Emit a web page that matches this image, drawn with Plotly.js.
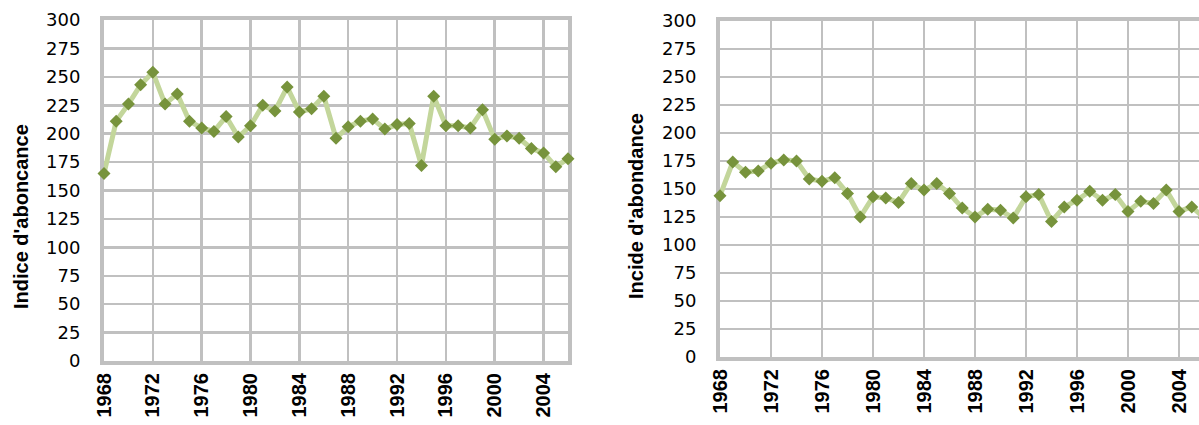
<!DOCTYPE html>
<html>
<head>
<meta charset="utf-8">
<script src="https://cdn.plot.ly/plotly-3.0.1.min.js"></script>
<style>
html,body{margin:0;padding:0;overflow:hidden;background:#fff;}
#chart{width:1215px;height:425px;}
</style>
</head>
<body>
<div id="chart"></div>
<script>
const years = [1968,1969,1970,1971,1972,1973,1974,1975,1976,1977,1978,1979,1980,1981,1982,1983,1984,1985,1986,1987,1988,1989,1990,1991,1992,1993,1994,1995,1996,1997,1998,1999,2000,2001,2002,2003,2004,2005,2006];
const leftValues = [165,211,226,243,254,226,235,211,205,202,215,197,207,225,220,241,219,222,233,196,206,211,213,204,208,209,172,233,207,207,205,221,195,198,196,187,183,171,178];
const rightValues = [144,174,165,166,173,176,175,159,157,160,146,125,143,142,138,155,149,155,146,133,125,132,131,124,143,145,121,134,140,148,140,145,130,139,137,149,130,134,124];
const tickYears = [1968,1972,1976,1980,1984,1988,1992,1996,2000,2004];
const yTicks = [0,25,50,75,100,125,150,175,200,225,250,275,300];
const leftTitle = "Indice d'aboncance";
const rightTitle = "Incide d'abondance";

const W = 1215, H = 425;
const px = v => v / W;
const py = v => (H - v) / H;

const lineColor = '#C3D69B';
const markerColor = '#77933C';
const gridColor = '#C0C0C0';

function trace(vals, xa, ya) {
  return {
    x: years, y: vals, xaxis: xa, yaxis: ya,
    type: 'scatter', mode: 'lines+markers',
    line: {color: lineColor, width: 5},
    marker: {symbol: 'diamond', size: 10, color: markerColor},
    cliponaxis: false, hoverinfo: 'skip', showlegend: false
  };
}

function xaxis(domain, anchor) {
  return {
    domain: domain, anchor: anchor, range: [1968, 2006],
    tickvals: tickYears, ticktext: tickYears.map(String),
    tickangle: -90, ticks: '', ticklen: 0,
    tickfont: {family: 'Liberation Sans, Arial, sans-serif', size: 20, color: '#000', weight: 'bold'},
    showgrid: true, gridcolor: gridColor, gridwidth: 2.5,
    showline: true, linecolor: gridColor, linewidth: 4, mirror: true,
    zeroline: false, layer: 'below traces', fixedrange: true
  };
}
function yaxis(domain, anchor) {
  return {
    domain: domain, anchor: anchor, range: [0, 300],
    tickvals: yTicks, ticktext: yTicks.map(String),
    ticks: 'outside', ticklen: 16, tickcolor: 'rgba(0,0,0,0)',
    tickfont: {family: 'DejaVu Sans, sans-serif', size: 18, color: '#000'},
    showgrid: true, gridcolor: gridColor, gridwidth: 2.5,
    showline: true, linecolor: gridColor, linewidth: 4, mirror: true,
    zeroline: false, layer: 'below traces', fixedrange: true
  };
}

const data = [trace(leftValues, 'x', 'y'), trace(rightValues, 'x2', 'y2')];

const layout = {
  width: W, height: H,
  margin: {l: 0, r: 0, t: 0, b: 0},
  paper_bgcolor: '#fff', plot_bgcolor: '#fff',
  xaxis: xaxis([px(104), px(568)], 'y'),
  yaxis: yaxis([py(361), py(20)], 'x'),
  xaxis2: xaxis([px(720), px(1204.5)], 'y2'),
  yaxis2: yaxis([py(357), py(21)], 'x2'),
  annotations: [
    {text: leftTitle, xref: 'paper', yref: 'paper', x: px(21), y: py(217),
     xanchor: 'center', yanchor: 'middle', textangle: -90, showarrow: false,
     font: {family: 'Liberation Sans, Arial, sans-serif', size: 20, color: '#000', weight: 'bold'}},
    {text: rightTitle, xref: 'paper', yref: 'paper', x: px(636), y: py(206),
     xanchor: 'center', yanchor: 'middle', textangle: -90, showarrow: false,
     font: {family: 'Liberation Sans, Arial, sans-serif', size: 20, color: '#000', weight: 'bold'}}
  ]
};

Plotly.newPlot('chart', data, layout, {staticPlot: true, displayModeBar: false});
</script>
</body>
</html>
